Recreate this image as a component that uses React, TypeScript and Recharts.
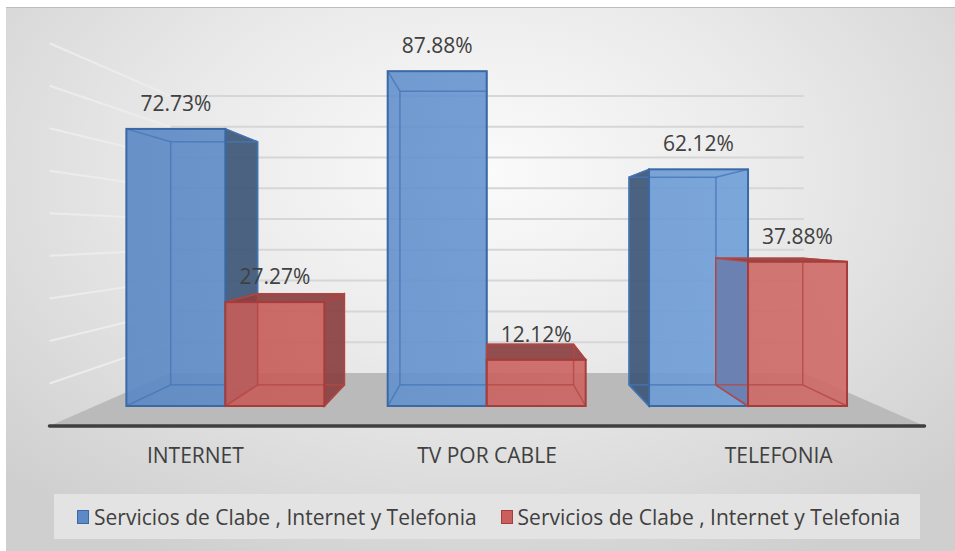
import React from 'react';
import { BarChart, Bar, XAxis, YAxis, CartesianGrid, Legend, LabelList } from 'recharts';

const categories = ['INTERNET', 'TV POR CABLE', 'TELEFONIA'];
const serviciosA = [72.73, 87.88, 62.12];
const serviciosB = [27.27, 12.12, 37.88];
const seriesNames = ['Servicios de Clabe , Internet y Telefonia', 'Servicios de Clabe , Internet y Telefonia'];
const yTicks = [0, 10, 20, 30, 40, 50, 60, 70, 80, 90];

const data = categories.map((name, i) => ({ name, a: serviciosA[i], b: serviciosB[i] }));

const W = 955;
const H = 551;
const FONT = '"Open Sans", sans-serif';
const TEXT = '#404040';

// fake perspective: vanishing point and depth factors
const VPX = 487;
const VPY = 234;
const BACK = 0.877; // back face of bars
const WALL = 0.808; // back wall
const FRONT = 1.116; // front edge of floor
const PLOT_TOP = 25;
const PLOT_BOTTOM = 406;
const CAT_Y = 463;

const px = (x: number, s: number) => VPX + s * (x - VPX);
const py = (y: number, s: number) => VPY + s * (y - VPY);
const pts = (list: number[][]) => list.map((p) => p.join(',')).join(' ');

const COLORS: any = {
  a: { from: '#5986c2', to: '#74a4dd', dark: '#3d5677', edge: '#3b69a5', inner: '#4677b6' },
  b: { from: '#c45956', to: '#d06b68', dark: '#8a4040', edge: '#a63d3a', inner: '#b54744' },
};

function Box3D(props: any) {
  const { x, y, width, height, series, payload } = props;
  if (width == null || height == null || height <= 0) return null;
  const c = COLORS[series];
  const x1 = x, x2 = x + width, y1 = y, y2 = y + height;
  const bx1 = px(x1, BACK), bx2 = px(x2, BACK);
  const by1 = py(y1, BACK), by2 = py(y2, BACK);
  const outer: string[] = [];
  let coverLeft: string | null = null;
  if (bx2 > x2 + 0.5) outer.push(pts([[x2, y1], [bx2, by1], [bx2, by2], [x2, y2]]));
  if (bx1 < x1 - 0.5) {
    const left = pts([[x1, y1], [bx1, by1], [bx1, by2], [x1, y2]]);
    outer.push(left);
    // the neighbouring blue bar stands in front of this face
    if (series === 'b' && payload && payload.a > payload.b) coverLeft = left;
  }
  if (by1 < y1 - 0.5) outer.push(pts([[x1, y1], [x2, y1], [bx2, by1], [bx1, by1]]));
  return (
    <g>
      {outer.map((f, i) => (
        <polygon key={i} points={f} fill={c.dark} fillOpacity={0.92} stroke={c.edge} strokeWidth={1.5} />
      ))}
      {coverLeft && <polygon points={coverLeft} fill="#6490cc" fillOpacity={0.8} />}
      <rect x={x1} y={y1} width={width} height={height} fill={`url(#front-${series})`} fillOpacity={0.9} />
      <g stroke={c.inner} strokeWidth={1.5} strokeOpacity={0.8} fill="none">
        <rect x={bx1} y={by1} width={bx2 - bx1} height={by2 - by1} />
        <line x1={x1} y1={y1} x2={bx1} y2={by1} />
        <line x1={x2} y1={y1} x2={bx2} y2={by1} />
        <line x1={x1} y1={y2} x2={bx1} y2={by2} />
        <line x1={x2} y1={y2} x2={bx2} y2={by2} />
      </g>
      <rect x={x1} y={y1} width={width} height={height} fill="none" stroke={c.edge} strokeWidth={2} />
    </g>
  );
}

function wallLine(p: any) {
  const { x1, x2, y1, index } = p;
  const top = p.y != null ? p.y : PLOT_TOP;
  const bottom = p.y != null && p.height != null ? p.y + p.height : PLOT_BOTTOM;
  const fy = py(y1, FRONT);
  const fxl = px(x1, FRONT);
  if (Math.abs(y1 - top) < 1) return <g key={`skip-${index}`} />;
  if (Math.abs(y1 - bottom) < 0.5) {
    const wy = py(y1, WALL);
    const fxr = px(x2, FRONT);
    return (
      <g key={`floor-${index}`}>
        <polygon points={pts([[px(x1, WALL), wy], [px(x2, WALL), wy], [fxr, fy], [fxl, fy]])} fill="#bababa" />
        <line x1={fxl} y1={fy} x2={fxr} y2={fy} stroke="#3f3f3f" strokeWidth={3.5} strokeLinecap="round" />
      </g>
    );
  }
  const wy = py(y1, WALL);
  return (
    <g key={`grid-${index}`}>
      <line x1={px(x1, WALL)} y1={wy} x2={px(x2, WALL)} y2={wy} stroke="#d6d6d6" strokeWidth={2} />
      <line x1={fxl} y1={fy} x2={px(x1, WALL)} y2={wy} stroke="#ececec" strokeWidth={2} />
    </g>
  );
}

function CatTick(props: any) {
  const { x, payload } = props;
  return (
    <text x={px(x, FRONT)} y={CAT_Y} textAnchor="middle" fontFamily={FONT} fontSize={21} fill={TEXT}>
      {payload.value}
    </text>
  );
}

function ValueLabel(props: any) {
  const { x, y, width, value } = props;
  return (
    <text x={x + width / 2} y={y - 18} textAnchor="middle" fontFamily={FONT} fontSize={21} fill={TEXT}>
      {Number(value).toFixed(2)}%
    </text>
  );
}

function LegendBox() {
  const swatch = [
    { fill: '#5b8ac6', stroke: '#3b69a5' },
    { fill: '#c9605d', stroke: '#a63d3a' },
  ];
  return (
    <div style={{ width: 866, height: 45, background: '#e3e3e3', display: 'flex', alignItems: 'center', fontFamily: FONT, fontSize: 21, color: TEXT }}>
      {seriesNames.map((n, i) => (
        <div key={i} style={{ display: 'flex', alignItems: 'center', marginLeft: i === 0 ? 23 : 24 }}>
          <span style={{ width: 10, height: 12, background: swatch[i].fill, border: `1px solid ${swatch[i].stroke}`, marginRight: 5 }} />
          <span>{n}</span>
        </div>
      ))}
    </div>
  );
}

export default function App() {
  return (
    <div style={{ position: 'absolute', left: 0, top: 0, width: W, height: H, background: '#fff' }}>
      <div
        style={{
          position: 'absolute', left: 6, top: 7, width: W - 6, height: H - 7,
          borderTop: '1.5px solid #bdbdbd',
          background: 'radial-gradient(ellipse 70% 80% at 50% 30%, #fbfbfb 0%, #eaeaea 45%, #cfcfcf 100%)',
        }}
      />
      <div style={{ position: 'absolute', left: 0, top: 0 }}>
        <BarChart width={W} height={H} data={data} margin={{ top: 25, right: 76, left: 95, bottom: 70 }} barCategoryGap="12%" barGap={0}>
          <defs>
            <linearGradient id="front-a" x1="95" y1="0" x2="879" y2="0" gradientUnits="userSpaceOnUse">
              <stop offset="0%" stopColor={COLORS.a.from} />
              <stop offset="100%" stopColor={COLORS.a.to} />
            </linearGradient>
            <linearGradient id="front-b" x1="95" y1="0" x2="879" y2="0" gradientUnits="userSpaceOnUse">
              <stop offset="0%" stopColor={COLORS.b.from} />
              <stop offset="100%" stopColor={COLORS.b.to} />
            </linearGradient>
          </defs>
          <CartesianGrid vertical={false} horizontal={wallLine} />
          <XAxis dataKey="name" axisLine={false} tickLine={false} tick={<CatTick />} height={30} interval={0} />
          <YAxis hide domain={[0, 100]} ticks={yTicks} />
          <Legend
            verticalAlign="bottom"
            content={<LegendBox />}
            wrapperStyle={{ left: 54, top: 494, bottom: 'auto', width: 866, height: 45 }}
          />
          <Bar dataKey="a" name={seriesNames[0]} isAnimationActive={false} shape={(p: any) => <Box3D {...p} series="a" />}>
            <LabelList dataKey="a" content={<ValueLabel />} />
          </Bar>
          <Bar dataKey="b" name={seriesNames[1]} isAnimationActive={false} shape={(p: any) => <Box3D {...p} series="b" />}>
            <LabelList dataKey="b" content={<ValueLabel />} />
          </Bar>
        </BarChart>
      </div>
    </div>
  );
}
